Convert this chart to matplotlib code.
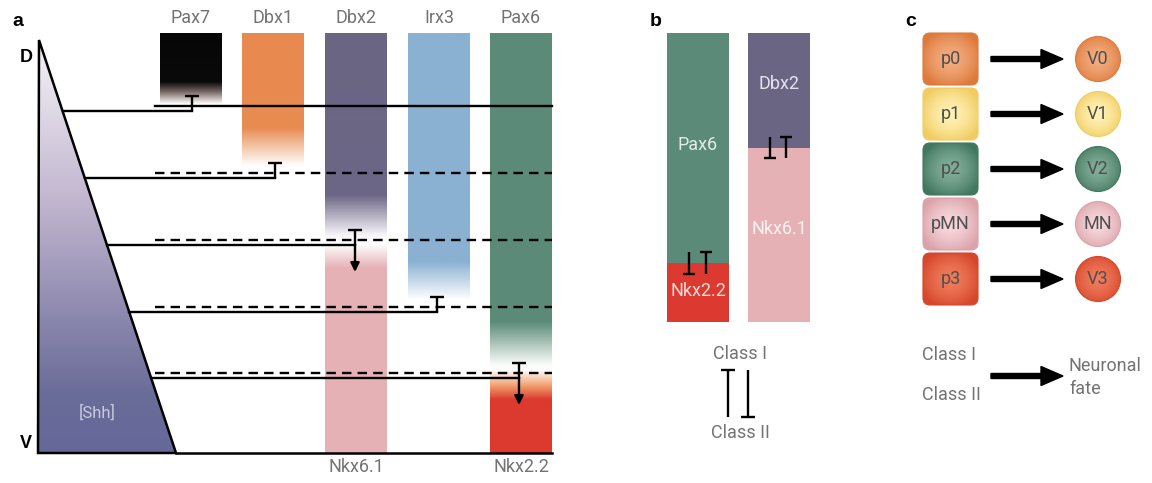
import numpy as np
import matplotlib
matplotlib.use("Agg")
import matplotlib.pyplot as plt
from matplotlib.colors import to_rgb
from matplotlib.patches import Polygon, FancyBboxPatch, Circle, Rectangle, FancyArrow

plt.rcParams['font.family'] = ['Roboto', 'DejaVu Sans']

# ---- data -------------------------------------------------------------
genes = ["Pax7", "Dbx1", "Dbx2", "Irx3", "Pax6"]
ventral_genes = ["", "", "Nkx6.1", "", "Nkx2.2"]
# expression profile along the D-V axis: (depth, colour) stops
gene_stops = [
    [(33, "#060606"), (82, "#0a0a0a"), (92, "#7a6a66"), (104, "#ffffff")],
    [(33, "#e8894f"), (128, "#e98c52"), (166, "#ffffff")],
    [(33, "#6b6584"), (195, "#6d6787"), (236, "#fbf8fc"), (244, "#ffffff"),
     (268, "#e6b1b4"), (453, "#e6b1b4")],
    [(33, "#8bb1d1"), (262, "#8ab1d2"), (300, "#ffffff")],
    [(33, "#5b8a79"), (322, "#5c8b7a"), (364, "#f6faf7"), (370, "#ffffff"),
     (386, "#f2a070"), (400, "#dc3a2e"), (453, "#dc3a2e")],
]
boundary_y = [106, 173, 240, 307, 373]
boundary_solid = [True, False, False, False, False]
target_x = [192, 275, 355, 437, 519]
activates = [False, False, True, False, True]
shh_stops = [(40, "#f6f2f8"), (200, "#c2b6cf"), (320, "#8a87ad"),
             (395, "#6a6c98"), (453, "#65689a")]

b_cols = [
    [("Pax6", "#5b8a79", "#e3ede7", 33, 263), ("Nkx2.2", "#dc3a30", "#f9dcd6", 263, 322)],
    [("Dbx2", "#6b6584", "#e6e2ee", 33, 148), ("Nkx6.1", "#e6b1b4", "#fcf2f3", 148, 322)],
]
b_label_y = [[145, 291], [84, 229]]

progenitors = ["p0", "p1", "p2", "pMN", "p3"]
neurons = ["V0", "V1", "V2", "MN", "V3"]
cell_centre = ["#f3ad80", "#fff2b4", "#82ae98", "#f6d8dc", "#f07c5c"]
cell_edge = ["#dd7a3c", "#f1cc62", "#42775f", "#dca2aa", "#d6462c"]


# ---- helpers ----------------------------------------------------------
def vgrad(stops, y0, y1, n=300):
    ys = np.linspace(y0, y1, n)
    pos = [s[0] for s in stops]
    cols = np.array([to_rgb(s[1]) for s in stops])
    arr = np.stack([np.interp(ys, pos, cols[:, k]) for k in range(3)], axis=-1)
    return arr[:, None, :]


def rgrad(c_in, c_out, n=120):
    g = np.linspace(-1, 1, n)
    xx, yy = np.meshgrid(g, g)
    r = np.clip(np.sqrt(xx ** 2 + yy ** 2) / 1.15, 0, 1)[..., None] ** 1.6
    return np.array(to_rgb(c_in)) * (1 - r) + np.array(to_rgb(c_out)) * r


def tbar(ax, x, ytop, ybot, bar_top=True, hw=7, lw=1.7, color="k"):
    ax.plot([x, x], [ytop, ybot], color=color, lw=lw, solid_capstyle="butt")
    yb = ytop if bar_top else ybot
    ax.plot([x - hw, x + hw], [yb, yb], color=color, lw=lw, solid_capstyle="butt")


fig = plt.figure(figsize=(11.52, 4.83), dpi=100)
ax = fig.add_axes([0, 0, 1, 1])
ax.axis("off")
grey = "#737373"
bold = dict(fontweight="bold", family="Liberation Sans", va="center")

# ---- panel a ----------------------------------------------------------
ax.text(12, 22, "a", fontsize=14, **bold)
ax.text(20, 57, "D", fontsize=13, **bold)
ax.text(20, 443, "V", fontsize=13, **bold)

tri = Polygon([(39, 40), (176, 453), (38, 453)], closed=True, fc="none",
              ec="k", lw=1.8, zorder=3)
ax.add_patch(tri)
im = ax.imshow(vgrad(shh_stops, 40, 453), extent=[38, 177, 453, 40],
               aspect="auto", zorder=1)
im.set_clip_path(tri)
ax.text(97, 413, "[Shh]", fontsize=12, color="#c9c9e2", ha="center", va="center")
ax.plot([176, 552], [453, 453], color="k", lw=1.8, zorder=3)

bx = [160, 242, 325, 408, 490]
bw = 62
for i, g in enumerate(genes):
    stops = gene_stops[i]
    y1 = stops[-1][0]
    ax.imshow(vgrad(stops, 33, y1), extent=[bx[i], bx[i] + bw, y1, 33],
              aspect="auto", zorder=1)
    ax.text(bx[i] + bw / 2, 18, g, fontsize=13, color=grey, ha="center", va="center")
    if ventral_genes[i]:
        ax.text(bx[i] + bw / 2, 467, ventral_genes[i], fontsize=13, color=grey,
                ha="center", va="center")

for i, yb in enumerate(boundary_y):
    ls = "-" if boundary_solid[i] else (0, (4, 2.6))
    ax.plot([155, 552], [yb, yb], color="k", lw=1.7, ls=ls, zorder=4)
    ys = yb + 5
    xe = 39 + (ys - 40) / 413 * 137
    ax.plot([xe, target_x[i]], [ys, ys], color="k", lw=1.7, zorder=4)
    tbar(ax, target_x[i], yb - 10, ys, bar_top=True)
    if activates[i]:
        ax.annotate("", xy=(target_x[i], ys + 27), xytext=(target_x[i], ys),
                    arrowprops=dict(arrowstyle="-|>", color="k", lw=1.7,
                                    mutation_scale=13, shrinkA=0, shrinkB=0),
                    zorder=5)

# ---- panel b ----------------------------------------------------------
ax.text(650, 22, "b", fontsize=14, **bold)
colx = [667, 748]
for j, col in enumerate(b_cols):
    for k, (name, fc, tc, y0, y1) in enumerate(col):
        ax.add_patch(Rectangle((colx[j], y0), 62, y1 - y0, fc=fc, ec="none", zorder=1))
        ax.text(colx[j] + 31, b_label_y[j][k], name, fontsize=13, color=tc,
                ha="center", va="center", zorder=2)

tbar(ax, 689, 252, 274, bar_top=False, hw=6)
tbar(ax, 706, 252, 274, bar_top=True, hw=6)
tbar(ax, 770, 137, 158, bar_top=False, hw=6)
tbar(ax, 786, 137, 158, bar_top=True, hw=6)

ax.text(740, 354, "Class I", fontsize=13, color=grey, ha="center", va="center")
ax.text(740, 433, "Class II", fontsize=13, color=grey, ha="center", va="center")
tbar(ax, 728, 370, 417, bar_top=True, hw=7)
tbar(ax, 748, 370, 417, bar_top=False, hw=7)

# ---- panel c ----------------------------------------------------------
ax.text(905, 22, "c", fontsize=14, **bold)
for i, (p, n) in enumerate(zip(progenitors, neurons)):
    top = 33 + 55 * i
    cy = top + 26
    box = FancyBboxPatch((923, top), 55, 52, boxstyle="round,pad=0,rounding_size=7",
                         fc="none", ec=cell_edge[i], lw=0.8, zorder=3)
    ax.add_patch(box)
    im = ax.imshow(rgrad(cell_centre[i], cell_edge[i]), extent=[923, 978, top + 52, top],
                   aspect="auto", zorder=2)
    im.set_clip_path(box)
    ax.text(950.5, cy, p, fontsize=13, color="#4f4f4f", ha="center", va="center", zorder=4)

    ax.add_patch(FancyArrow(991, cy, 72, 0, width=5, head_width=19, head_length=22,
                            length_includes_head=True, fc="k", ec="k", zorder=3))

    circ = Circle((1098, cy), 22.5, fc="none", ec=cell_edge[i], lw=0.8, zorder=3)
    ax.add_patch(circ)
    im = ax.imshow(rgrad(cell_centre[i], cell_edge[i]),
                   extent=[1075, 1121, cy + 23, cy - 23], aspect="auto", zorder=2)
    im.set_clip_path(circ)
    ax.text(1098, cy, n, fontsize=13, color="#4f4f4f", ha="center", va="center", zorder=4)

ax.text(922, 355, "Class I", fontsize=13, color=grey, ha="left", va="center")
ax.text(922, 395, "Class II", fontsize=13, color=grey, ha="left", va="center")
ax.add_patch(FancyArrow(991, 376, 72, 0, width=5, head_width=19, head_length=22,
                        length_includes_head=True, fc="k", ec="k", zorder=3))
ax.text(1069, 366, "Neuronal", fontsize=13, color=grey, ha="left", va="center")
ax.text(1069, 389, "fate", fontsize=13, color=grey, ha="left", va="center")

ax.set_xlim(0, 1152)
ax.set_ylim(483, 0)
fig.savefig("out.png", dpi=100, facecolor="white")
